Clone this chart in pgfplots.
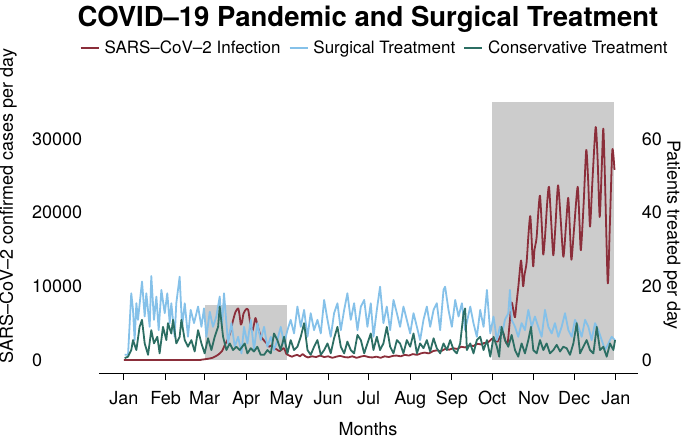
\documentclass[border=0pt]{standalone}
\usepackage{fontspec}
\setmainfont{TeX Gyre Heros}
\usepackage{pgfplots}
\usepackage{pgfplotstable}
\pgfplotsset{compat=1.18}
\definecolor{covred}{HTML}{8B2E3A}
\definecolor{surgblue}{HTML}{85C1E9}
\definecolor{consteal}{HTML}{2C6E63}
\definecolor{shade}{HTML}{CCCCCC}
\newcommand\lbl{\fontsize{18}{21}\selectfont}
\newcommand\leg{\fontsize{17}{20}\selectfont}

\pgfplotstableread{
day cases
0 0
20 0
40 0
56 0
58 50
62 150
66 300
70 700
73 1200
75 2000
77 2700
79 3600
81 5200
83 6500
85 7000
86 6200
87 4800
88 5200
89 6300
91 6900
92.5 6800
94 5000
95.5 3900
97 5000
98 5700
100 4300
102 3200
104 2700
106 2300
108 1800
110 2000
112 1600
114 1400
116 1200
119 1600
121 800
123 600
125 450
127 600
129 700
131 500
133 800
135 500
137 350
140 500
143 400
146 600
149 400
152 500
155 300
158 450
161 550
164 400
167 350
170 500
173 300
176 450
179 550
182 400
185 350
188 450
191 300
194 500
197 400
200 550
203 600
206 500
209 700
212 600
215 800
218 700
221 900
224 1000
227 900
230 1200
233 1300
236 1200
239 1500
242 1400
245 1600
248 1500
251 1800
254 1700
257 2000
260 1900
263 2200
266 2100
268 2300
271 2400
274 2900
276 2600
278 2500
280 3200
282 3800
284 2500
285.5 2300
287 5000
288.5 7800
290 6500
291 5800
292 7500
293.5 10000
295.5 13500
297 10000
298 11500
299.6 13200
301 17000
302.4 19500
304 14000
304.6 12700
305.5 15000
307 16500
308.5 20500
309.6 22300
311 18000
312 14300
313.3 16700
315 21500
316.3 23500
318 18500
319.5 14200
321 18000
323 23700
325 19000
327 14000
329 18500
330.6 22000
332 17000
333 13600
335 18000
337.6 23500
339 18500
340 14900
342 21000
344 28500
345.5 24000
346.8 18100
348.5 24000
351 31600
352.5 27000
354 19400
355.5 26000
356.7 31400
358 24000
360 10400
361.5 18000
363.4 28500
365 25800
}\infection

\pgfplotstableread{
day patients
0.6 1.4
3.1 1.4
5.5 18.1
6.8 13.6
8.0 5.4
9.3 15.4
10.5 10.9
13.5 21.3
15.5 11.8
16.7 18.1
19.2 9.0
20.4 22.8
22.4 10.9
24.2 17.2
25.9 8.1
27.9 19.0
30.4 12.7
32.3 18.1
34.1 10.0
35.3 15.4
37.8 6.3
39.0 15.4
41.5 22.6
43.3 9.0
45.3 15.4
47.7 6.3
49.7 13.6
52.2 10.0
55.2 14.5
57.7 9.0
59.6 14.0
61.4 6.3
63.9 13.1
66.3 9.0
68.8 11.8
71.3 17.2
73.0 9.0
74.5 18.1
77.5 4.5
80.0 10.0
82.5 3.6
85.0 6.3
87.5 1.8
89.4 9.0
91.9 4.5
94.4 10.9
96.8 2.7
99.3 10.0
101.8 5.4
104.3 9.0
106.8 3.6
109.3 6.3
111.7 2.7
114.2 5.4
116.7 9.0
119.2 4.5
121.7 8.1
124.1 10.9
126.6 7.2
129.1 14.5
131.6 9.0
134.1 13.6
136.6 6.3
139.0 12.7
141.5 8.1
144.0 10.9
146.5 7.2
149.0 16.3
151.5 10.9
153.9 6.3
156.4 12.7
158.9 15.4
161.4 8.1
163.9 13.6
166.3 18.1
168.8 10.9
171.3 15.4
173.8 8.1
176.3 14.5
178.8 16.3
181.2 9.0
183.7 15.4
185.7 6.3
188.2 13.6
190.6 19.9
193.1 10.0
195.6 14.5
198.1 8.1
200.6 16.3
203.1 12.7
205.5 9.0
208.0 14.5
210.5 10.9
213.0 7.2
215.5 12.7
218.0 9.0
220.4 5.4
222.9 10.9
225.4 14.5
227.9 9.0
230.4 13.6
232.8 15.4
235.3 8.1
237.8 19.0
239.0 19.9
241.5 13.6
244.0 9.0
246.5 16.3
249.0 11.8
251.5 15.4
253.9 8.1
257.7 14.5
260.1 10.0
262.6 6.3
265.1 13.6
267.6 9.0
270.1 19.0
272.6 7.2
275.0 11.8
277.5 5.4
279.8 9.0
281.5 7.2
283.5 10.9
286.0 12.7
287.2 19.0
288.5 10.9
291.0 9.0
293.4 6.3
295.9 10.0
298.4 8.1
300.9 13.6
303.4 9.0
305.8 11.8
308.3 9.0
310.8 6.3
313.3 13.6
315.8 9.0
318.3 7.2
320.7 10.0
323.2 6.3
325.7 9.0
328.2 12.7
330.7 8.1
333.2 6.3
335.6 10.9
338.1 9.0
340.6 6.3
343.1 10.9
345.6 9.0
348.0 5.4
350.5 10.0
353.0 8.1
355.5 5.4
358.0 2.7
360.5 4.5
362.9 6.3
365.4 5.4
}\surgical

\pgfplotstableread{
day patients
0.6 0.5
3.1 0.9
5.5 2.7
6.8 5.4
9.3 2.7
11.7 9.0
13.5 10.9
15.5 4.5
18.0 1.4
20.4 8.1
22.4 4.5
24.9 6.3
26.6 1.8
29.1 9.0
31.6 5.4
32.8 10.0
35.3 7.2
36.6 10.9
39.0 4.5
41.5 6.3
42.8 10.9
45.3 5.4
47.7 3.6
50.2 5.4
52.7 2.3
55.2 8.1
57.7 4.5
60.1 1.8
62.6 5.9
65.1 2.7
67.6 6.3
70.1 9.0
71.3 14.5
73.8 6.3
76.3 2.7
78.8 4.5
81.2 2.7
83.7 3.6
86.2 2.7
89.9 4.5
91.9 1.8
94.4 3.2
96.8 2.3
99.3 3.6
101.8 1.4
104.3 1.4
106.8 2.7
109.3 1.8
111.7 7.2
114.2 5.4
116.7 2.7
119.2 6.3
121.7 1.8
124.1 5.4
126.6 2.7
129.1 3.6
131.6 6.3
134.1 10.0
136.6 2.7
139.0 1.4
141.5 3.6
144.0 5.4
146.5 1.4
149.0 2.7
151.5 4.5
153.9 1.8
156.4 5.9
158.9 9.0
161.4 3.6
163.9 1.8
166.3 5.0
168.8 2.7
171.3 1.8
173.8 6.8
176.3 5.4
178.8 1.8
181.2 4.5
183.7 7.2
185.7 2.7
188.2 6.3
190.6 2.7
193.1 4.5
195.6 9.0
198.1 3.6
200.6 1.8
203.1 5.4
205.5 4.5
208.0 1.8
210.5 5.4
213.0 3.6
215.5 7.2
218.0 1.8
220.4 4.5
222.9 3.2
225.4 5.4
227.9 2.3
230.4 5.9
232.8 3.2
235.3 1.8
237.8 4.5
240.3 2.7
242.8 5.4
245.3 2.7
247.7 1.8
250.2 4.5
252.7 12.7
253.9 14.0
255.2 2.7
257.7 4.5
260.1 1.8
262.6 5.4
265.1 6.3
267.6 2.7
270.1 5.4
272.6 0.9
275.0 6.3
277.5 3.6
279.2 0.9
281.0 9.0
283.5 5.4
286.0 3.6
288.5 6.8
291.0 2.7
293.4 0.9
295.9 4.5
298.4 1.8
300.9 5.4
302.9 9.0
304.6 2.7
307.1 1.8
309.6 5.4
312.1 2.7
314.5 4.5
317.0 1.8
319.5 2.7
322.0 4.1
324.5 2.3
326.9 3.6
329.4 3.2
331.9 1.4
334.4 4.5
336.9 10.0
339.4 1.8
341.8 3.6
344.3 5.4
346.8 2.7
349.3 1.8
351.8 9.0
354.2 2.7
356.7 3.6
359.2 0.9
361.7 4.5
364.2 2.7
365.4 5.4
}\conservative

\begin{document}
\begin{tikzpicture}
\useasboundingbox (0,0) rectangle (685pt,439pt);
\begin{axis}[
  at={(99pt,66pt)}, anchor=south west,
  scale only axis, width=539pt, height=283pt,
  xmin=-18.5, xmax=382.5, ymin=-1764, ymax=36635,
  axis x line*=bottom, axis y line*=left,
  x axis line style={-, line width=0.8pt},
  y axis line style={draw=none},
  ytick style={draw=none},
  xtick style={line width=0.8pt, black},
  tick align=outside, major tick length=7pt,
  xtick={0,31,60,91,121,152,182,213,244,274,305,335,366},
  xticklabels={Jan,Feb,Mar,Apr,May,Jun,Jul,Aug,Sep,Oct,Nov,Dec,Jan},
  ytick={0,10000,20000,30000},
  scaled y ticks=false,
  /pgf/number format/1000 sep={},
  /pgf/number format/assume math mode=true,
  tick label style={font=\lbl},
  xticklabel style={yshift=-8pt},
  yticklabel style={anchor=west, inner sep=0pt, xshift=-60pt},
  legend style={at={(-0.0417,1.148)}, anchor=west, draw=none, fill=none,
    font=\leg, legend columns=3, nodes={inner sep=0pt},
    /tikz/every odd column/.append style={column sep=5pt},
    /tikz/every even column/.append style={column sep=8pt}},
  legend image code/.code={\draw[#1] (0pt,0pt) -- (18pt,0pt);},
  legend cell align=left,
]
\addplot[fill=shade, draw=none, forget plot] coordinates {(60,0) (121,0) (121,7500) (60,7500)} -- cycle;
\addplot[fill=shade, draw=none, forget plot] coordinates {(274,0) (365,0) (365,35000) (274,35000)} -- cycle;
\addplot[covred, line width=1.8pt, line join=round, smooth, tension=0.4] table[x=day, y=cases] {\infection};
\addlegendentry{SARS–CoV–2 Infection}
\addlegendimage{surgblue, line width=1.8pt}
\addlegendentry{Surgical Treatment}
\addlegendimage{consteal, line width=1.8pt}
\addlegendentry{Conservative Treatment}
\end{axis}
\begin{axis}[
  at={(99pt,66pt)}, anchor=south west,
  scale only axis, width=539pt, height=283pt,
  xmin=-18.5, xmax=382.5, ymin=-3.528, ymax=73.27,
  hide x axis,
  axis y line*=right,
  y axis line style={draw=none},
  ytick style={draw=none},
  major tick length=0pt,
  ytick={0,20,40,60},
  /pgf/number format/assume math mode=true,
  tick label style={font=\lbl},
  yticklabel style={anchor=west, inner sep=0pt, xshift=3.7pt},
]
\addplot[surgblue, line width=1.8pt, line join=round] table[x=day, y=patients] {\surgical};
\addplot[consteal, line width=1.8pt, line join=round] table[x=day, y=patients] {\conservative};
\end{axis}
\node[anchor=base, font=\fontsize{27.5}{30}\selectfont\bfseries] at (368pt,412pt) {COVID–19 Pandemic and Surgical Treatment};
\node[rotate=90, font=\lbl] at (8pt,233pt) {SARS–CoV–2 confirmed cases per day};
\node[rotate=-90, font=\lbl] at (672pt,204pt) {Patients treated per day};
\node[anchor=base, font=\lbl] at (368pt,4pt) {Months};
\end{tikzpicture}
\end{document}
